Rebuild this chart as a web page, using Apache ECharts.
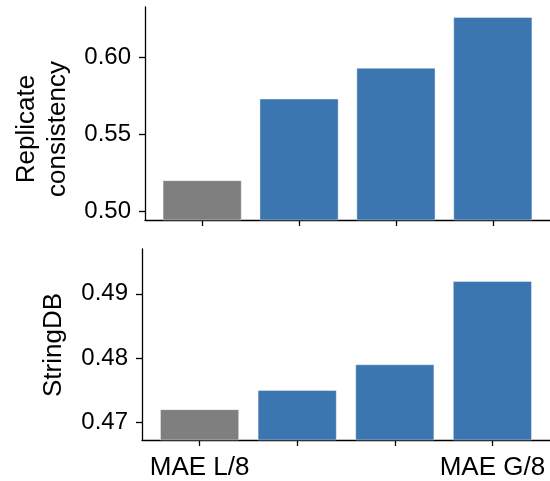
<!DOCTYPE html>
<html lang="en" style="height: 100%">
<head>
  <meta charset="utf-8">
</head>
<body style="height: 100%; margin: 0; background: #fff">
  <div id="container" style="width: 550px; height: 481px"></div>

  <script type="text/javascript" src="https://cdn.jsdelivr.net/npm/echarts@6/dist/echarts.min.js"></script>

  <script type="text/javascript">
    // data
    const models = ['MAE L/8', '', '', 'MAE G/8'];
    const replicate = [0.520, 0.573, 0.593, 0.626];
    const stringdb = [0.472, 0.475, 0.479, 0.492];
    const barColors = ['#7f7f7f', '#3c76b0', '#3c76b0', '#3c76b0'];
    const topTicks = [0.50, 0.55, 0.60];
    const bottomTicks = [0.47, 0.48, 0.49];
    const xTicks = [0, 1, 2, 3];
    const xLabelTicks = [0, 3];

    var dom = document.getElementById('container');
    var myChart = echarts.init(dom, null, { renderer: 'canvas' });

    const font = 'Liberation Sans, Arial, Helvetica, sans-serif';
    const axisLine = { show: true, onZero: false, lineStyle: { color: '#000', width: 1.3 } };

    function toBars(values) {
      return values.map(function (v, i) {
        return { value: [i, v], itemStyle: { color: barColors[i] } };
      });
    }

    function xAxis(gridIndex, showLabels) {
      return {
        type: 'value',
        gridIndex: gridIndex,
        min: -0.59,
        max: 3.59,
        splitLine: { show: false },
        axisLine: axisLine,
        axisTick: { show: true, length: 6, customValues: xTicks, lineStyle: { color: '#000', width: 1.3 } },
        axisLabel: {
          show: showLabels,
          customValues: xLabelTicks,
          margin: 15,
          fontSize: 26,
          fontFamily: font,
          color: '#000',
          formatter: function (v) { return models[Math.round(v)] || ''; }
        }
      };
    }

    function yAxis(gridIndex, min, max, ticks) {
      return {
        type: 'value',
        gridIndex: gridIndex,
        min: min,
        max: max,
        splitLine: { show: false },
        axisLine: axisLine,
        axisTick: { show: true, length: 6, customValues: ticks, lineStyle: { color: '#000', width: 1.3 } },
        axisLabel: {
          customValues: ticks,
          margin: 14,
          fontSize: 24,
          fontFamily: font,
          color: '#000',
          formatter: function (v) { return v.toFixed(2); }
        }
      };
    }

    var option = {
      animation: false,
      grid: [
        { left: 145, top: 7, width: 411, height: 213 },
        { left: 142, top: 249, width: 411, height: 192 }
      ],
      xAxis: [xAxis(0, false), xAxis(1, true)],
      yAxis: [
        yAxis(0, 0.4942, 0.6325, topTicks),
        yAxis(1, 0.4672, 0.4970, bottomTicks)
      ],
      series: [
        {
          type: 'bar',
          xAxisIndex: 0,
          yAxisIndex: 0,
          barWidth: 79,
          data: toBars(replicate),
          itemStyle: { borderColor: 'rgba(255,255,255,0.5)', borderWidth: 0.8 }
        },
        {
          type: 'bar',
          xAxisIndex: 1,
          yAxisIndex: 1,
          barWidth: 79,
          data: toBars(stringdb),
          itemStyle: { borderColor: 'rgba(255,255,255,0.5)', borderWidth: 0.8 }
        }
      ],
      graphic: {
        elements: [
          {
            type: 'text',
            x: 42,
            y: 129,
            rotation: Math.PI / 2,
            style: {
              text: 'Replicate\nconsistency',
              font: '26px ' + font,
              lineHeight: 31,
              fill: '#000',
              align: 'center',
              verticalAlign: 'middle'
            }
          },
          {
            type: 'text',
            x: 54,
            y: 345,
            rotation: Math.PI / 2,
            style: {
              text: 'StringDB',
              font: '26px ' + font,
              fill: '#000',
              align: 'center',
              verticalAlign: 'middle'
            }
          }
        ]
      }
    };

    myChart.setOption(option);
    window.addEventListener('resize', myChart.resize);
  </script>
</body>
</html>
